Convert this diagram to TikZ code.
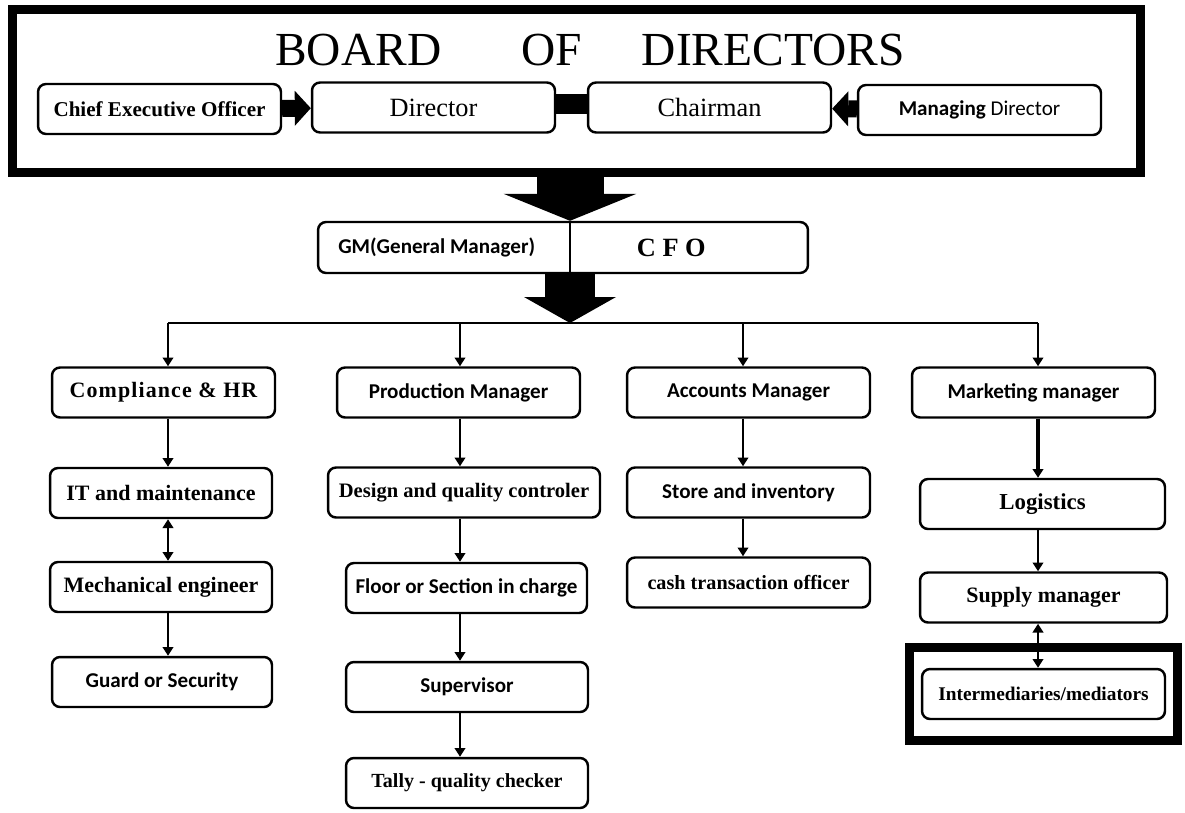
\documentclass[tikz,border=0pt]{standalone}
\usepackage{fontspec}
\setmainfont{Liberation Serif}
\newfontfamily\calib{Carlito}
\newfontfamily\spacedserif[LetterSpace=5]{Liberation Serif}
\usetikzlibrary{arrows.meta}

\begin{document}
\begin{tikzpicture}[
	x=0.02cm, y=-0.02cm,
	box/.style={draw, rounded corners=0.16cm, line width=1.4pt, minimum width=4.86cm, minimum height=1cm, inner sep=1pt, font=\bfseries\fontsize{12}{14}\selectfont},
	sans/.style={font=\calib\bfseries\fontsize{12}{14}\selectfont},
	thickframe/.style={draw, line width=0.18cm, inner sep=0pt},
	wire/.style={line width=1.2pt},
	link/.style={wire, -{Triangle[length=5pt,width=6pt]}},
	twoway/.style={wire, {Triangle[length=5pt,width=6pt]}-{Triangle[length=5pt,width=6pt]}},
	fatlink/.style={line width=0.34cm, -{Triangle[length=0.32cm,width=0.7cm,line width=0pt]}}
	]
\useasboundingbox (0,0) rectangle (1185,812);

% begin board
\node[thickframe, minimum width=22.56cm, minimum height=3.26cm] (board) at (576.5,91) {};
\node[font=\fontsize{27}{30}\selectfont] (title) at (590,50) {BOARD\hspace{1.6cm}OF\hspace{1.2cm}DIRECTORS};

			\node[box] (ceo)   at (159.5,109) {Chief Executive Officer};
			\node[box, font=\fontsize{15}{17}\selectfont] (dir)   at (433.5,107.5) {Director};
			\node[box, font=\fontsize{15}{17}\selectfont] (chair)   at (709.5,107.5) {Chairman};
			\node[box, sans] (md)   at (979.5,110) {Managing {\mdseries Director}};

			\draw[fatlink] (ceo) -- (dir);
			\draw[line width=0.4cm] ([yshift=0.08cm]dir.east) -- ([yshift=0.08cm]chair.west);
			\draw[fatlink] (md) -- (chair);
% end board

			\node[box, minimum width=9.8cm, minimum height=1.02cm] (gmcfo)   at (563,247.5) {};
			\node[sans, anchor=east, minimum width=5.32cm] (gm)   at (570,247.5) {GM(General Manager)};
			\node[anchor=west, minimum width=4.04cm, font=\bfseries\fontsize{15}{17}\selectfont] (cfo)   at (570,247.5) {C F O};
			\draw[line width=1.4pt] (gmcfo.north -| gm.east) -- (gmcfo.south -| gm.east);

			\coordinate (hub)   at (570,323);
			\draw[line width=1.34cm, -{Triangle[length=0.54cm,width=2.66cm,line width=0pt]}] (board.south -| gm.east) -- (gmcfo.north -| gm.east);
			\draw[line width=1.0cm, -{Triangle[length=0.52cm,width=1.84cm,line width=0pt]}] (gmcfo.south -| gm.east) -- (hub);

% begin columns
			\coordinate (bus1)   at (168,323);
			\coordinate (bus2)   at (460,323);
			\coordinate (bus3)   at (743,323);
			\coordinate (bus4)   at (1038,323);

			\node[box, minimum width=4.46cm, font=\spacedserif\bfseries\fontsize{12.5}{14}\selectfont] (cmp)   at (163.5,392.5) {Compliance \& HR};
			\node[box, minimum width=4.44cm, font=\bfseries\fontsize{12.5}{14}\selectfont] (it)   at (161,493) {IT and maintenance};
			\node[box, minimum width=4.44cm, font=\bfseries\fontsize{12.5}{14}\selectfont] (mech)   at (161,587) {Mechanical engineer};
			\node[box, sans, minimum width=4.4cm] (guard)   at (162,682) {Guard or Security};

			\node[box, sans] (prod)   at (458.5,392.5) {Production Manager};
			\node[box, minimum width=5.44cm, font=\bfseries\fontsize{11.7}{14}\selectfont] (design)   at (464,492.5) {Design and quality controler};
			\node[box, sans, minimum width=4.82cm] (floor)   at (466.5,588) {Floor or Section in charge};
			\node[box, sans, minimum width=4.84cm] (superv)   at (467,687) {Supervisor};
			\node[box, minimum width=4.84cm, font=\bfseries\fontsize{11.4}{14}\selectfont] (tally)   at (467,783) {Tally - quality checker};

			\node[box, sans] (acc)   at (748.5,392.5) {Accounts Manager};
			\node[box, sans] (store)   at (748.5,492.5) {Store and inventory};
			\node[box, font=\bfseries\fontsize{11.5}{14}\selectfont] (cash)   at (748.5,582.5) {cash transaction officer};

			\node[box, sans] (mkt)   at (1033.5,392.5) {Marketing manager};
			\node[box, minimum width=4.9cm, font=\bfseries\fontsize{13}{15}\selectfont] (logi)   at (1042.5,504) {Logistics};
			\node[box, minimum width=4.94cm, font=\bfseries\fontsize{12.5}{14}\selectfont] (supply)   at (1043.5,597.5) {Supply manager};
			\node[thickframe, minimum width=5.36cm, minimum height=1.86cm] (interframe)   at (1043.5,694) {};
			\node[box, font=\bfseries\fontsize{11}{13}\selectfont] (inter)   at (1043.5,694) {Intermediaries/mediators};

			\draw[wire] (bus1) -- (bus4);
			\draw[link] (bus1) -- (cmp.north -| bus1);
			\draw[link] (bus2) -- (prod.north -| bus2);
			\draw[link] (bus3) -- (acc.north -| bus3);
			\draw[link] (bus4) -- (mkt.north -| bus4);

			\draw[link] (cmp.south -| bus1) -- (it.north -| bus1);
			\draw[twoway] (it.south -| bus1) -- (mech.north -| bus1);
			\draw[link] (mech.south -| bus1) -- (guard.north -| bus1);

			\draw[link] (prod.south -| bus2) -- (design.north -| bus2);
			\draw[link] (design.south -| bus2) -- (floor.north -| bus2);
			\draw[link] (floor.south -| bus2) -- (superv.north -| bus2);
			\draw[link] (superv.south -| bus2) -- (tally.north -| bus2);

			\draw[link] (acc.south -| bus3) -- (store.north -| bus3);
			\draw[link] (store.south -| bus3) -- (cash.north -| bus3);

			\draw[link, line width=2pt] (mkt.south -| bus4) -- (logi.north -| bus4);
			\draw[link] (logi.south -| bus4) -- (supply.north -| bus4);
			\draw[twoway] (supply.south -| bus4) -- (inter.north -| bus4);
% end columns

\end{tikzpicture}
\end{document}
